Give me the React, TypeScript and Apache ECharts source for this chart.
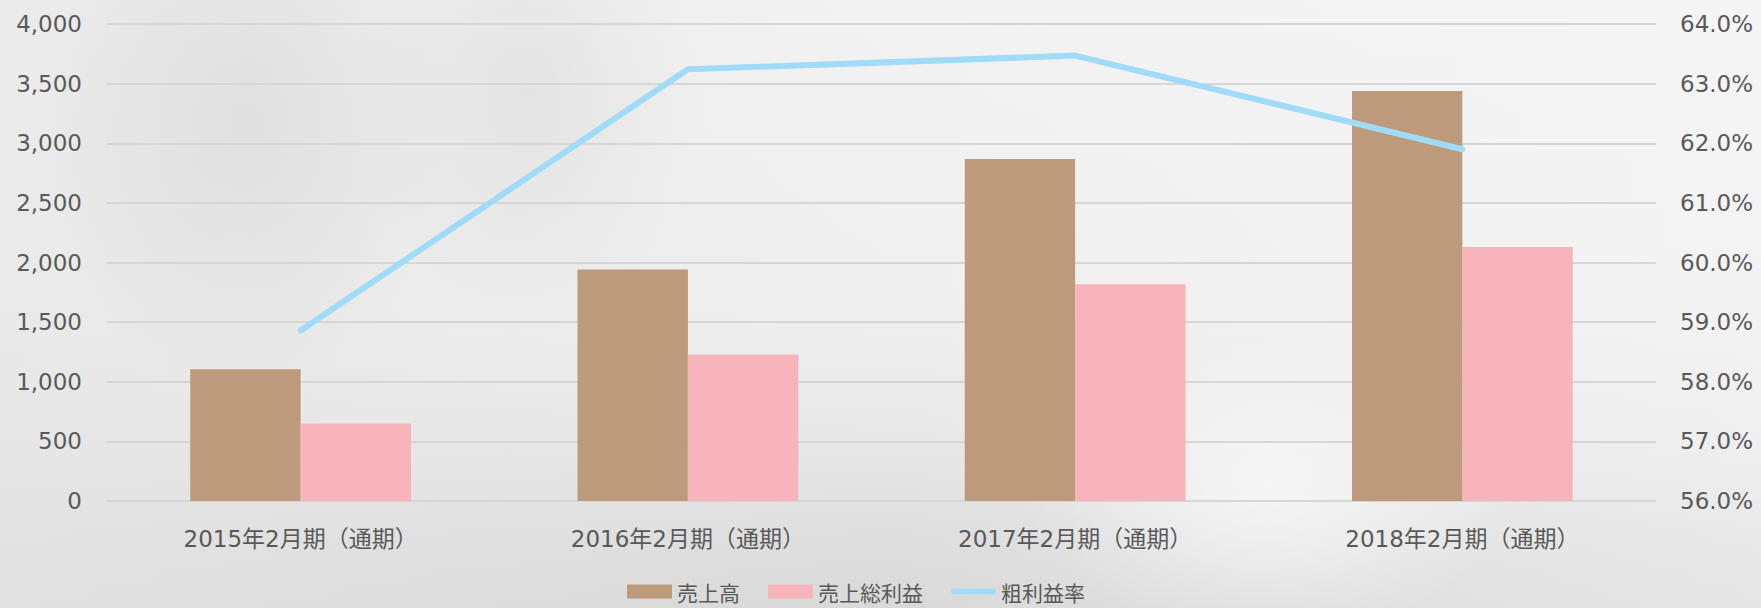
import React, { useEffect, useRef } from "react";
import * as echarts from "echarts";

const categories = [
  "2015年2月期（通期）",
  "2016年2月期（通期）",
  "2017年2月期（通期）",
  "2018年2月期（通期）",
];
const sales = [1105, 1942, 2867, 3438];
const grossProfit = [649, 1228, 1818, 2129];
const grossMargin = [58.86, 63.24, 63.47, 61.9];

const seriesNames = ["売上高", "売上総利益", "粗利益率"];

const FONT = "'DejaVu Sans', 'Noto Sans CJK JP', sans-serif";
const TEXT = "#595959";
const LINE_ICON = "path://M3,0 L47,0 A3,3 0 0 1 47,6 L3,6 A3,3 0 0 1 3,0 Z";

export default function App() {
  const ref = useRef<HTMLDivElement>(null);

  useEffect(() => {
    document.body.style.margin = "0";
    if (!ref.current) return;
    const chart = echarts.init(ref.current, null, { renderer: "svg" });
    chart.setOption({
      animation: false,
      textStyle: { fontFamily: FONT },
      grid: { left: 107, right: 105, top: 24, bottom: 107 },
      legend: {
        left: 627,
        top: 581,
        padding: 0,
        itemWidth: 45,
        itemHeight: 14,
        itemGap: 28,
        textStyle: { fontSize: 21, color: TEXT, fontFamily: "'Noto Sans CJK JP', sans-serif" },
        data: [
          { name: seriesNames[0], icon: "rect" },
          { name: seriesNames[1], icon: "rect" },
          { name: seriesNames[2], icon: LINE_ICON, itemStyle: { color: "#a0dbf8" } },
        ],
      },
      xAxis: {
        type: "category",
        data: categories,
        axisLine: { show: false },
        axisTick: { show: false },
        axisLabel: { fontSize: 23, color: TEXT, margin: 26, fontFamily: FONT },
      },
      yAxis: [
        {
          type: "value",
          min: 0,
          max: 4000,
          interval: 500,
          axisLine: { show: false },
          axisTick: { show: false },
          axisLabel: {
            fontSize: 23,
            color: TEXT,
            margin: 25,
            fontFamily: FONT,
            formatter: (v: number) => v.toLocaleString("en-US"),
          },
          splitLine: { lineStyle: { color: "#d6d6d6", width: 2 } },
        },
        {
          type: "value",
          min: 56,
          max: 64,
          interval: 1,
          axisLine: { show: false },
          axisTick: { show: false },
          axisLabel: {
            fontSize: 23,
            color: TEXT,
            margin: 24,
            fontFamily: FONT,
            formatter: (v: number) => v.toFixed(1) + "%",
          },
          splitLine: { show: false },
        },
      ],
      series: [
        {
          name: seriesNames[0],
          type: "bar",
          data: sales,
          barGap: "0%",
          barCategoryGap: "43%",
          itemStyle: { color: "#bc9a7b" },
        },
        {
          name: seriesNames[1],
          type: "bar",
          data: grossProfit,
          itemStyle: { color: "#f7b4bb" },
        },
        {
          name: seriesNames[2],
          type: "line",
          yAxisIndex: 1,
          data: grossMargin,
          symbol: "none",
          lineStyle: { color: "#a0dbf8", width: 6, cap: "round", join: "round" },
          itemStyle: { color: "#a0dbf8" },
        },
      ],
    });
    return () => chart.dispose();
  }, []);

  return (
    <div
      ref={ref}
      style={{
        width: 1761,
        height: 608,
        background:
          "radial-gradient(ellipse 12% 45% at 14% 20%, rgba(200,200,200,0.35), rgba(200,200,200,0) 100%)," +
          "radial-gradient(ellipse 10% 40% at 30% 15%, rgba(205,205,205,0.3), rgba(205,205,205,0) 100%)," +
          "radial-gradient(ellipse 14% 25% at 72% 80%, rgba(252,252,252,0.7), rgba(252,252,252,0) 100%)," +
          "linear-gradient(to right, rgba(230,230,230,0.6) 0%, rgba(240,240,240,0) 50%, rgba(250,250,250,0.4) 100%)," +
          "linear-gradient(to bottom, #f2f2f2 0%, #efefef 50%, #e8e8e8 72%, #dedede 88%, #d9d9d9 100%)",
      }}
    />
  );
}
